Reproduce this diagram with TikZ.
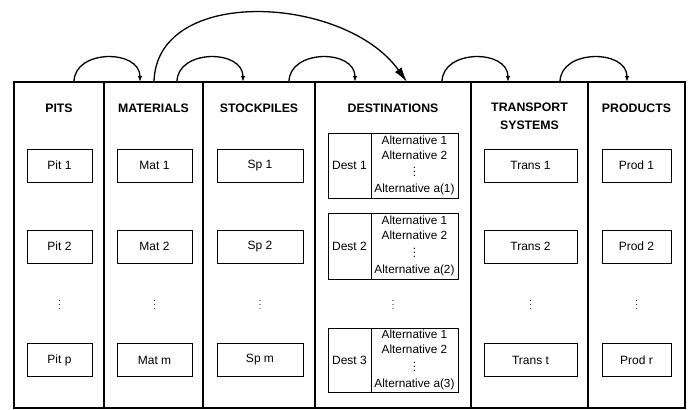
\documentclass[tikz,border=0pt]{standalone}
\usepackage{fontspec}
\setmainfont{Liberation Sans}
\usetikzlibrary{arrows.meta}
\begin{document}
\begin{tikzpicture}[x=1pt,y=-1pt,
  colbox/.style={draw,line width=1.4pt,inner sep=0pt,outer sep=0pt,anchor=north west,minimum height=326pt},
  hdr/.style={font=\fontsize{12.3}{18}\selectfont\bfseries,align=center},
  item/.style={draw,line width=0.8pt,inner sep=0pt,minimum height=33pt,font=\fontsize{12}{14}\selectfont},
  vdot/.style={font=\fontsize{9}{10}\selectfont},
  destl/.style={draw,line width=0.8pt,inner sep=0pt,minimum width=43pt,font=\fontsize{12}{14}\selectfont},
  destr/.style={draw,line width=0.8pt,inner sep=0.5pt,minimum width=87pt,align=center,font=\fontsize{11.8}{15}\selectfont},
  hop/.style={line width=1.3pt,-{Latex[length=6pt,width=4.5pt]}},
  jump/.style={line width=1.3pt,-{Latex[length=15pt,width=8pt]}}
]
\useasboundingbox (0,0) rectangle (689,410);

% columns
\node[colbox,minimum width=90pt]  (pitscol)  at (14,82)  {};
\node[colbox,minimum width=99pt]  (matcol)   at (104,82) {};
\node[colbox,minimum width=112pt] (spcol)    at (203,82) {};
\node[colbox,minimum width=156pt] (destcol)  at (315,82) {};
\node[colbox,minimum width=117pt] (transcol) at (471,82) {};
\node[colbox,minimum width=97pt]  (prodcol)  at (588,82) {};

% headers
\node[hdr] (hpits)  at (59,108)    {PITS};
\node[hdr] (hmat)   at (153.5,108) {MATERIALS};
\node[hdr] (hsp)    at (259,108)   {STOCKPILES};
\node[hdr] (hdest)  at (393,108)   {DESTINATIONS};
\node[hdr] (htrans) at (529.5,116) {TRANSPORT\\SYSTEMS};
\node[hdr] (hprod)  at (636.5,108) {PRODUCTS};

% pits
\node[item,minimum width=65pt] (pit1) at (59.5,165.5) {Pit 1};
\node[item,minimum width=65pt] (pit2) at (59.5,246.5) {Pit 2};
\node[vdot] (pitd) at (59.5,302) {$\vdots$};
\node[item,minimum width=65pt] (pitp) at (59.5,360) {Pit p};

% materials
\node[item,minimum width=75pt] (mat1) at (154.5,165.5) {Mat 1};
\node[item,minimum width=75pt] (mat2) at (154.5,246.5) {Mat 2};
\node[vdot] (matd) at (154.5,302) {$\vdots$};
\node[item,minimum width=75pt] (matm) at (154.5,360) {Mat m};

% stockpiles
\node[item,minimum width=86pt] (sp1) at (260,165.5) {Sp 1};
\node[item,minimum width=86pt] (sp2) at (260,246.5) {Sp 2};
\node[vdot] (spd) at (260,302) {$\vdots$};
\node[item,minimum width=86pt] (spm) at (260,360) {Sp m};

% destinations with their alternatives
\node[destl,minimum height=65pt] (dest1) at (349.5,165.5) {Dest 1};
\node[destr,minimum height=65pt] (alt1) at (414.5,165.5)
  {Alternative 1\\Alternative 2\\[1pt]$\vdots$\\[1pt]Alternative a(1)};
\node[destl,minimum height=66pt] (dest2) at (349.5,246) {Dest 2};
\node[destr,minimum height=66pt] (alt2) at (414.5,246)
  {Alternative 1\\Alternative 2\\[1pt]$\vdots$\\[1pt]Alternative a(2)};
\node[vdot] (destd) at (393,302) {$\vdots$};
\node[destl,minimum height=64pt] (dest3) at (349.5,360) {Dest 3};
\node[destr,minimum height=64pt] (alt3) at (414.5,360)
  {Alternative 1\\Alternative 2\\[1pt]$\vdots$\\[1pt]Alternative a(3)};

% transport systems
\node[item,minimum width=93pt] (trans1) at (530.5,165.5) {Trans 1};
\node[item,minimum width=93pt] (trans2) at (530.5,246.5) {Trans 2};
\node[vdot] (transd) at (530.5,302) {$\vdots$};
\node[item,minimum width=93pt] (transt) at (530.5,360) {Trans t};

% products
\node[item,minimum width=69pt] (prod1) at (636.5,165.5) {Prod 1};
\node[item,minimum width=69pt] (prod2) at (636.5,246.5) {Prod 2};
\node[vdot] (prodd) at (636.5,302) {$\vdots$};
\node[item,minimum width=69pt] (prodr) at (636.5,360) {Prod r};

% arc end points on the top edge
\coordinate (pm-s) at (74,82);   \coordinate (pm-e) at (140,82);
\coordinate (ms-s) at (177,82);  \coordinate (ms-e) at (243,82);
\coordinate (sd-s) at (289,82);  \coordinate (sd-e) at (355,82);
\coordinate (dt-s) at (442,82);  \coordinate (dt-e) at (508,82);
\coordinate (tp-s) at (560,82);  \coordinate (tp-e) at (627,82);
\coordinate (md-s) at (154,82);  \coordinate (md-e) at (407,82);

% flows between neighbouring columns
\draw[hop] (pm-s) .. controls +(0,-33) and +(0,-33) .. (pm-e);
\draw[hop] (ms-s) .. controls +(0,-33) and +(0,-33) .. (ms-e);
\draw[hop] (sd-s) .. controls +(0,-33) and +(0,-33) .. (sd-e);
\draw[hop] (dt-s) .. controls +(0,-33) and +(0,-33) .. (dt-e);
\draw[hop] (tp-s) .. controls +(0,-33) and +(0,-33) .. (tp-e);

% materials sent straight to destinations
\draw[jump] (md-s) .. controls (156,-15) and (345,-5) .. (md-e);
\end{tikzpicture}
\end{document}
